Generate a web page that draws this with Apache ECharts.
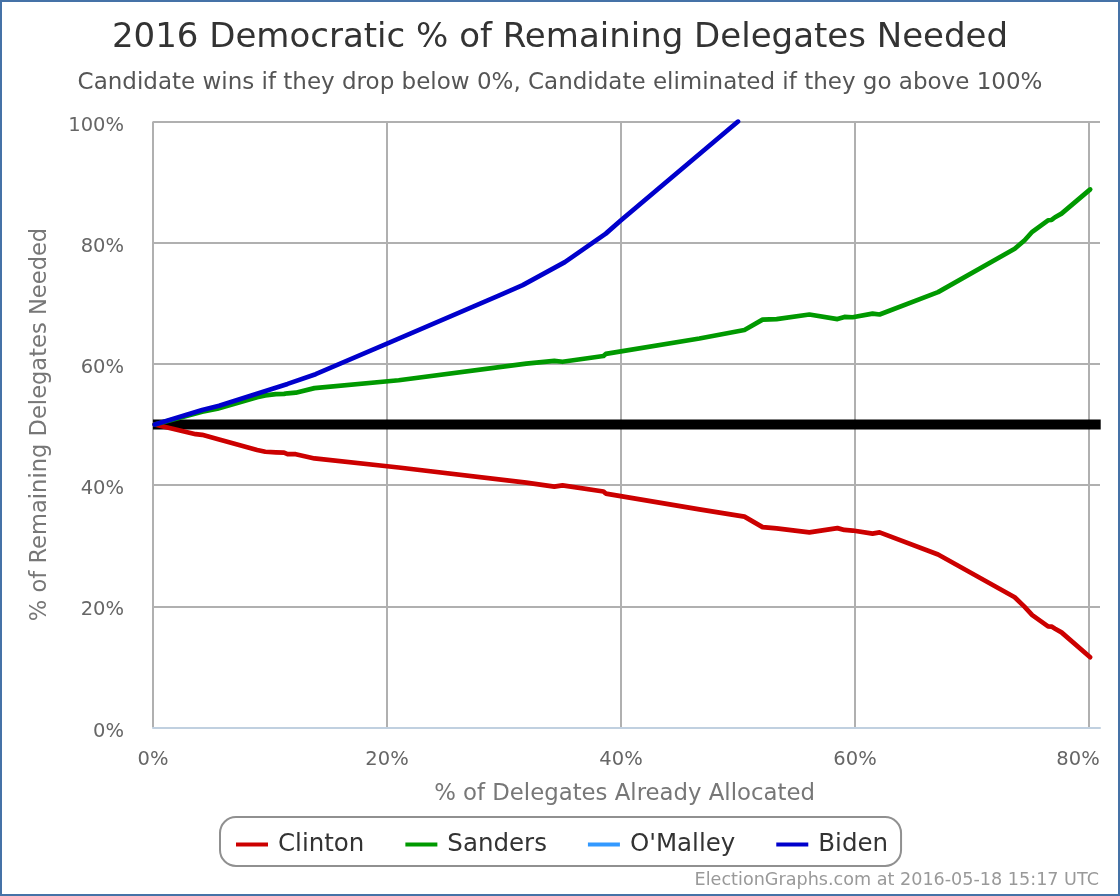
<!DOCTYPE html>
<html>
<head>
<meta charset="utf-8">
<title>2016 Democratic % of Remaining Delegates Needed</title>
<script src="https://cdn.jsdelivr.net/npm/echarts@6/dist/echarts.min.js"></script>
<style>
html,body{margin:0;padding:0;background:#fff}
#main{width:1120px;height:896px}
</style>
</head>
<body>
<div id="main"></div>
<script>
var delegatesPct=[0.15,3.65,4.2,5.5,8.9,9.6,10.5,11.2,11.5,12.2,13.8,21,31.9,34.3,35,38.5,38.7,46.7,50.55,52.1,53.3,56.1,58.5,59.1,59.8,61.5,62.1,67.1,73.65,74.5,75.15,76.5,76.8,77.1,77.65,80.1]
var clintonNeeded=[50,48.4,48.3,47.6,45.8,45.5,45.4,45.35,45.1,45.1,44.4,42.9,40.4,39.75,39.95,38.95,38.6,36,34.8,33.07,32.85,32.2,32.9,32.6,32.5,32,32.2,28.55,21.5,19.9,18.55,16.7,16.65,16.3,15.7,11.6]
var sandersNeeded=[50,51.8,52.1,52.6,54.5,54.8,55,55.05,55.15,55.25,56,57.3,60.05,60.5,60.35,61.3,61.65,64.2,65.6,67.3,67.4,68.15,67.4,67.75,67.7,68.3,68.15,71.85,79,80.4,81.8,83.7,83.75,84.2,84.8,88.8]
var bidenPct=[0.15,4.2,5.65,11.5,13.9,20.2,29.6,31.6,35.2,38.7,40,50]
var bidenNeeded=[50,52.4,53.1,56.7,58.3,63.5,71.3,73,76.8,81.5,83.7,100]
var omalleyPct=[0.15]
var omalleyNeeded=[50]
var majorityPct=[0,81]
var majorityNeeded=[50,50]
var names=['Clinton','Sanders',"O'Malley",'Biden']
var xTicks=[0,20,40,60,80]
var yTicks=[0,20,40,60,80,100]

function pairs(xs,ys){
    return xs.map(function(x,i){return [x,ys[i]]})
}
function candidate(name,color,xs,ys){
    return {
        name:name,
        type:'line',
        data:pairs(xs,ys),
        showSymbol:false,
        symbol:'none',
        z:3,
        color:color,
        lineStyle:{width:4.7,color:color,cap:'round',join:'round'},
        animation:false
    }
}

var myChart=echarts.init(document.getElementById('main'),null,{renderer:'canvas'})
var fontName='"DejaVu Sans"'
var option={
    backgroundColor:'#fff',
    animation:false,
    title:[
        {text:'2016 Democratic % of Remaining Delegates Needed',left:'center',top:16,
         textStyle:{fontFamily:fontName,fontSize:34,fontWeight:'normal',color:'#333'}},
        {text:'Candidate wins if they drop below 0%, Candidate eliminated if they go above 100%',left:'center',top:67,
         textStyle:{fontFamily:fontName,fontSize:23,fontWeight:'normal',color:'#555'}},
        {text:'ElectionGraphs.com at 2016-05-18 15:17 UTC',right:16,top:866,
         textStyle:{fontFamily:fontName,fontSize:17.6,fontWeight:'normal',color:'#999'}}
    ],
    grid:{left:153,top:121.5,width:947,height:606,containLabel:false},
    xAxis:{
        type:'value',
        min:0,
        max:80.94,
        interval:20,
        name:'% of Delegates Already Allocated',
        nameLocation:'middle',
        nameGap:55,
        nameTextStyle:{fontFamily:fontName,fontSize:22.8,color:'#777',padding:[0,4,0,0]},
        axisLine:{show:true,lineStyle:{color:'#c0d0e0',width:2}},
        axisTick:{show:false},
        axisLabel:{
            fontFamily:fontName,fontSize:19.5,color:'#666',margin:22,showMaxLabel:false,
            formatter:function(v){
                if(v===80) return '{last|80%}'
                return xTicks.indexOf(v)>=0?v+'%':''
            },
            rich:{last:{fontFamily:fontName,fontSize:19.5,color:'#666',padding:[0,22,0,0]}}
        },
        splitLine:{show:true,showMaxLine:false,lineStyle:{color:'#b0b0b0',width:2}}
    },
    yAxis:{
        type:'value',
        min:0,
        max:100,
        interval:20,
        name:'% of Remaining Delegates Needed',
        nameLocation:'middle',
        nameGap:101,
        nameTextStyle:{fontFamily:fontName,fontSize:22.6,color:'#777'},
        axisLine:{show:false},
        axisTick:{show:false},
        axisLabel:{
            margin:29,
            formatter:function(v){return yTicks.indexOf(v)>=0?'{tick|'+v+'%}':''},
            rich:{tick:{fontFamily:fontName,fontSize:19.5,color:'#666',padding:[8,0,0,0]}}
        },
        splitLine:{show:true,lineStyle:{color:'#b0b0b0',width:2}}
    },
    legend:{
        data:names,
        left:220,
        top:817,
        orient:'horizontal',
        padding:[15,13,9,16],
        itemGap:41,
        itemWidth:32,
        itemHeight:4,
        icon:'rect',
        borderColor:'#909090',
        borderWidth:2,
        borderRadius:16,
        textStyle:{fontFamily:fontName,fontSize:24.5,color:'#333',padding:[0,0,0,5]}
    },
    tooltip:{trigger:'item'},
    graphic:[{
        type:'rect',
        silent:true,
        shape:{x:1,y:1,width:1118,height:894},
        style:{fill:'none',stroke:'#4572a7',lineWidth:2},
        z:100
    }],
    series:[
        {name:'majority',type:'line',data:pairs(majorityPct,majorityNeeded),symbol:'none',z:2,silent:true,
         lineStyle:{width:10,color:'#000'},animation:false},
        candidate(names[0],'#cc0000',delegatesPct,clintonNeeded),
        candidate(names[1],'#009900',delegatesPct,sandersNeeded),
        candidate(names[2],'#3399ff',omalleyPct,omalleyNeeded),
        candidate(names[3],'#0000cc',bidenPct,bidenNeeded)
    ]
}
myChart.setOption(option)
</script>
</body>
</html>
